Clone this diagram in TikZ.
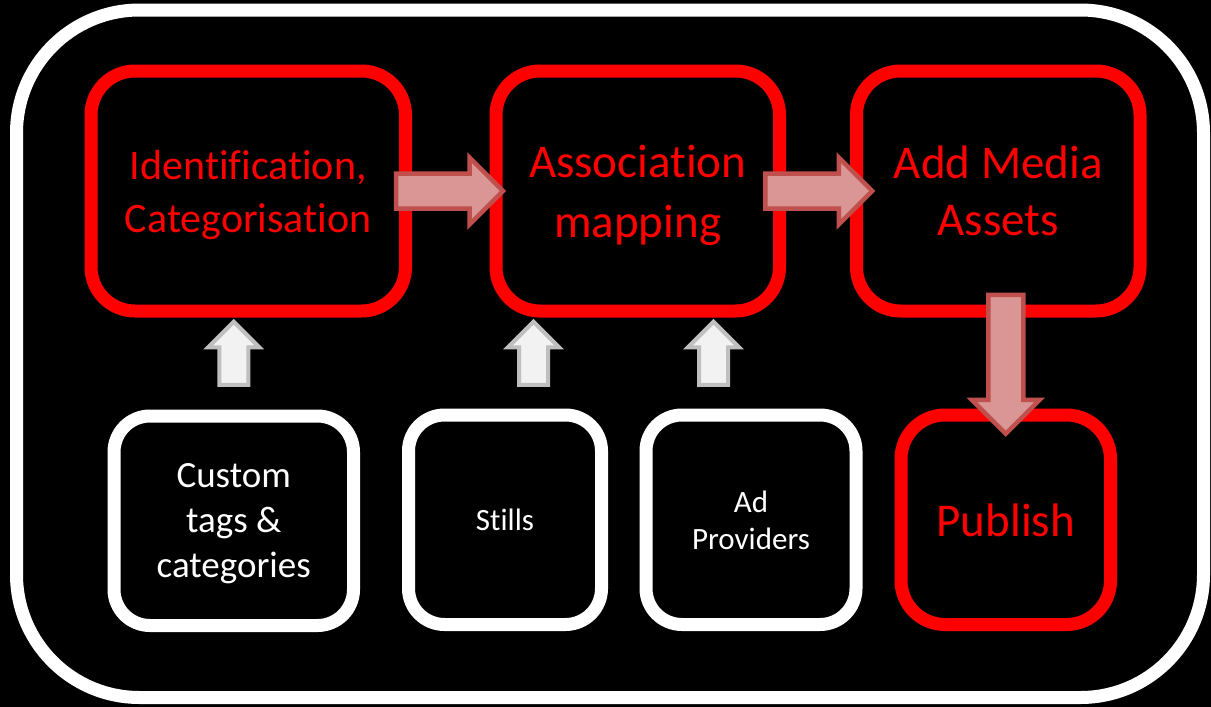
\documentclass[tikz,border=0pt]{standalone}
\usepackage{fontspec}
\setmainfont[RawFeature=-liga,RawFeature=-clig,RawFeature=-rlig,RawFeature=-calt]{Carlito}
\usetikzlibrary{shapes.arrows,calc}
\definecolor{boxred}{HTML}{FF0000}
\definecolor{flowfill}{HTML}{D99694}
\definecolor{flowline}{HTML}{C0504D}
\definecolor{feedfill}{HTML}{F2F2F2}
\definecolor{feedline}{HTML}{BFBFBF}

\begin{document}
\begin{tikzpicture}[x=1pt,y=-1pt,
		redbox/.style={draw=boxred, line width=13pt, rounded corners=44pt, text=boxred,
			align=center, minimum height=240pt, inner sep=0pt, text depth=0pt},
		whitebox/.style={draw=white, line width=13pt, rounded corners=36pt, text=white,
			align=center, minimum height=209.5pt, inner sep=0pt, text depth=0pt},
		flow/.style={single arrow, draw=flowline, fill=flowfill, line width=4.5pt,
			inner xsep=0pt, inner ysep=15.25pt, single arrow head extend=16pt, minimum height=107pt},
		feed/.style={single arrow, shape border rotate=90, draw=feedline, fill=feedfill, line width=4pt,
			inner ysep=0pt, inner xsep=12.5pt, single arrow head extend=11pt, minimum height=63pt}]

		\fill[black] (0,0) rectangle (1211,707);
		\draw[white, line width=13pt, rounded corners=123pt] (16.5,10) rectangle (1203.5,697.5);

		\node[redbox, minimum width=314.5pt, font=\fontsize{42}{53}\selectfont] (ident) at (248.25,191) {Identification,\\Categorisation};
		\node[redbox, minimum width=283.5pt, font=\fontsize{47}{60}\selectfont] (assoc) [right of=ident, node distance=389.5pt] {Association\\mapping};
		\node[redbox, minimum width=283.5pt, font=\fontsize{47}{57}\selectfont] (media) [right of=assoc, node distance=360.5pt] {Add Media\\Assets};
		\node[redbox, minimum width=209.5pt, minimum height=209.5pt, font=\fontsize{47}{57}\selectfont] (publish) at (1005.75,519.75) {Publish};

		\node[whitebox, minimum width=239.5pt, font=\fontsize{37}{45}\selectfont] (tags) at (233.75,520.75) {Custom\\tags \&\\categories};
		\node[whitebox, minimum width=193pt, font=\fontsize{31}{37}\selectfont] (stills) at (505,519.75) {Stills};
		\node[whitebox, minimum width=210pt, font=\fontsize{31}{37}\selectfont] (adprov) at (751,519.75) {Ad\\Providers};

		\node[flow] (identassoc) at ($(ident.east)!0.5!(assoc.west)+(-10,0)$) {};
		\node[flow] (assocmedia) at ($(assoc.east)!0.5!(media.west)+(-8,0)$) {};
		\node[flow, shape border rotate=270, inner ysep=0pt, inner xsep=15.25pt, minimum height=139pt, single arrow head extend=16.5pt] (mediapublish)
			at ($(media.south -| publish.north)!0.5!(publish.north)+(0,-7.5)$) {};

		\node[feed] (tagsup) at ($(tags.north)!0.5!(ident.south -| tags.north)+(0,-3)$) {};
		\node[feed] (stillsup) at (533.5,360.5) {};
		\node[feed] (adprovup) at (713.5,360.5) {};

\end{tikzpicture}
\end{document}
